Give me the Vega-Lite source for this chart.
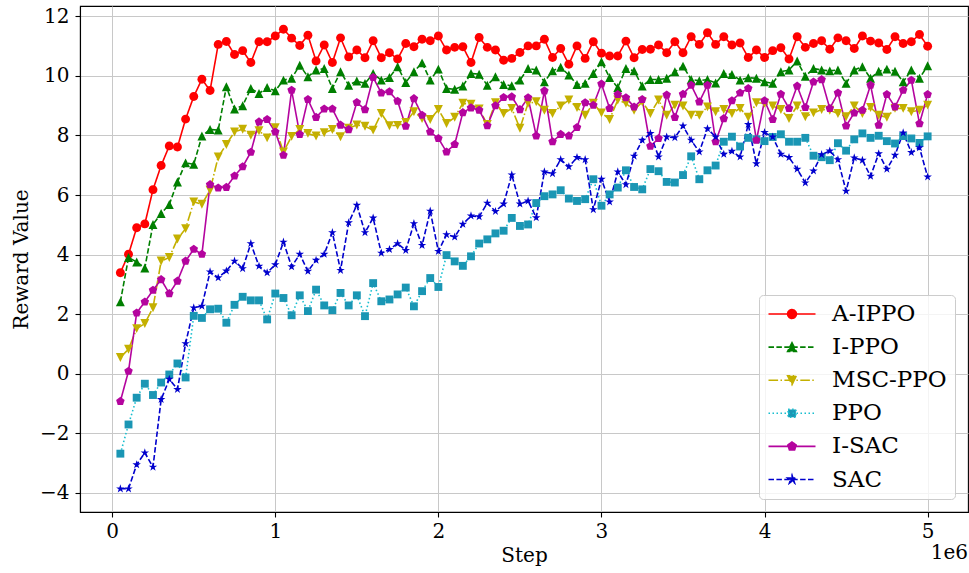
{
  "$schema": "https://vega.github.io/schema/vega-lite/v6.json",
  "width": 888,
  "height": 506,
  "autosize": {"type": "none"},
  "padding": {"left": 80, "top": 6, "right": 1, "bottom": 61},
  "background": "white",
  "config": {
    "font": "DejaVu Serif",
    "view": {"stroke": "black", "strokeWidth": 1.1},
    "axis": {
      "labelFont": "DejaVu Serif", "titleFont": "DejaVu Serif",
      "labelFontSize": 20, "titleFontSize": 20, "titleFontWeight": "normal",
      "labelColor": "black", "titleColor": "black",
      "domainColor": "black", "domainWidth": 1.1,
      "tickColor": "black", "tickSize": 5, "tickWidth": 1.1,
      "gridColor": "#c8c8c8", "gridWidth": 1
    }
  },
  "title": {"text": "1e6", "orient": "bottom", "anchor": "end", "frame": "group", "fontSize": 20, "fontWeight": "normal", "font": "DejaVu Serif", "color": "black", "offset": -22},
  "data": {"values": [
    {"step": 50000, "A-IPPO": 3.39, "I-PPO": 2.41, "MSC-PPO": 0.54, "PPO": -2.69, "I-SAC": -0.93, "SAC": -3.87},
    {"step": 100000, "A-IPPO": 4.01, "I-PPO": 3.90, "MSC-PPO": 0.82, "PPO": -1.71, "I-SAC": 0.08, "SAC": -3.87},
    {"step": 150000, "A-IPPO": 4.90, "I-PPO": 3.75, "MSC-PPO": 1.51, "PPO": -0.81, "I-SAC": 2.04, "SAC": -3.06},
    {"step": 200000, "A-IPPO": 5.03, "I-PPO": 3.55, "MSC-PPO": 1.68, "PPO": -0.34, "I-SAC": 2.41, "SAC": -2.66},
    {"step": 250000, "A-IPPO": 6.18, "I-PPO": 5.01, "MSC-PPO": 2.21, "PPO": -0.72, "I-SAC": 2.80, "SAC": -3.14},
    {"step": 300000, "A-IPPO": 6.99, "I-PPO": 5.38, "MSC-PPO": 3.78, "PPO": -0.30, "I-SAC": 3.16, "SAC": -0.87},
    {"step": 350000, "A-IPPO": 7.65, "I-PPO": 5.68, "MSC-PPO": 3.90, "PPO": -0.03, "I-SAC": 2.69, "SAC": -0.19},
    {"step": 400000, "A-IPPO": 7.61, "I-PPO": 6.44, "MSC-PPO": 4.52, "PPO": 0.34, "I-SAC": 3.11, "SAC": -0.53},
    {"step": 450000, "A-IPPO": 8.55, "I-PPO": 7.08, "MSC-PPO": 4.87, "PPO": -0.13, "I-SAC": 3.78, "SAC": 1.01},
    {"step": 500000, "A-IPPO": 9.31, "I-PPO": 7.03, "MSC-PPO": 5.77, "PPO": 1.94, "I-SAC": 4.18, "SAC": 2.21},
    {"step": 550000, "A-IPPO": 9.89, "I-PPO": 7.98, "MSC-PPO": 5.69, "PPO": 1.87, "I-SAC": 4.01, "SAC": 2.27},
    {"step": 600000, "A-IPPO": 9.51, "I-PPO": 8.20, "MSC-PPO": 6.16, "PPO": 2.16, "I-SAC": 6.35, "SAC": 3.42},
    {"step": 650000, "A-IPPO": 11.06, "I-PPO": 8.18, "MSC-PPO": 7.28, "PPO": 2.18, "I-SAC": 6.24, "SAC": 3.22},
    {"step": 700000, "A-IPPO": 11.16, "I-PPO": 9.64, "MSC-PPO": 7.70, "PPO": 1.71, "I-SAC": 6.26, "SAC": 3.45},
    {"step": 750000, "A-IPPO": 10.72, "I-PPO": 8.89, "MSC-PPO": 8.12, "PPO": 2.31, "I-SAC": 6.64, "SAC": 3.78},
    {"step": 800000, "A-IPPO": 10.85, "I-PPO": 9.00, "MSC-PPO": 8.21, "PPO": 2.58, "I-SAC": 6.95, "SAC": 3.53},
    {"step": 850000, "A-IPPO": 10.45, "I-PPO": 9.58, "MSC-PPO": 8.01, "PPO": 2.46, "I-SAC": 7.44, "SAC": 4.37},
    {"step": 900000, "A-IPPO": 11.15, "I-PPO": 9.41, "MSC-PPO": 8.16, "PPO": 2.46, "I-SAC": 8.46, "SAC": 3.61},
    {"step": 950000, "A-IPPO": 11.15, "I-PPO": 9.61, "MSC-PPO": 7.92, "PPO": 1.82, "I-SAC": 8.54, "SAC": 3.39},
    {"step": 1000000, "A-IPPO": 11.34, "I-PPO": 9.50, "MSC-PPO": 8.26, "PPO": 2.69, "I-SAC": 8.12, "SAC": 3.66},
    {"step": 1050000, "A-IPPO": 11.57, "I-PPO": 9.86, "MSC-PPO": 7.45, "PPO": 2.54, "I-SAC": 7.34, "SAC": 4.42},
    {"step": 1100000, "A-IPPO": 11.27, "I-PPO": 9.92, "MSC-PPO": 7.97, "PPO": 1.96, "I-SAC": 9.52, "SAC": 3.59},
    {"step": 1150000, "A-IPPO": 11.02, "I-PPO": 10.36, "MSC-PPO": 8.20, "PPO": 2.63, "I-SAC": 8.04, "SAC": 4.01},
    {"step": 1200000, "A-IPPO": 11.37, "I-PPO": 9.97, "MSC-PPO": 8.07, "PPO": 2.10, "I-SAC": 9.21, "SAC": 3.44},
    {"step": 1250000, "A-IPPO": 10.50, "I-PPO": 10.20, "MSC-PPO": 7.98, "PPO": 2.82, "I-SAC": 8.61, "SAC": 3.81},
    {"step": 1300000, "A-IPPO": 11.04, "I-PPO": 10.25, "MSC-PPO": 8.09, "PPO": 2.29, "I-SAC": 8.89, "SAC": 4.01},
    {"step": 1350000, "A-IPPO": 10.45, "I-PPO": 9.58, "MSC-PPO": 8.20, "PPO": 2.13, "I-SAC": 8.89, "SAC": 4.74},
    {"step": 1400000, "A-IPPO": 11.28, "I-PPO": 10.14, "MSC-PPO": 7.96, "PPO": 2.71, "I-SAC": 8.35, "SAC": 3.47},
    {"step": 1450000, "A-IPPO": 10.64, "I-PPO": 9.69, "MSC-PPO": 8.24, "PPO": 2.29, "I-SAC": 8.20, "SAC": 5.07},
    {"step": 1500000, "A-IPPO": 10.87, "I-PPO": 9.83, "MSC-PPO": 8.35, "PPO": 2.63, "I-SAC": 9.11, "SAC": 5.66},
    {"step": 1550000, "A-IPPO": 10.61, "I-PPO": 9.75, "MSC-PPO": 8.31, "PPO": 1.93, "I-SAC": 8.87, "SAC": 4.74},
    {"step": 1600000, "A-IPPO": 11.18, "I-PPO": 10.08, "MSC-PPO": 8.18, "PPO": 3.04, "I-SAC": 9.95, "SAC": 5.23},
    {"step": 1650000, "A-IPPO": 10.61, "I-PPO": 9.86, "MSC-PPO": 8.74, "PPO": 2.43, "I-SAC": 9.43, "SAC": 4.05},
    {"step": 1700000, "A-IPPO": 10.78, "I-PPO": 9.95, "MSC-PPO": 8.33, "PPO": 2.49, "I-SAC": 9.47, "SAC": 4.17},
    {"step": 1750000, "A-IPPO": 10.57, "I-PPO": 10.31, "MSC-PPO": 8.34, "PPO": 2.66, "I-SAC": 9.15, "SAC": 4.37},
    {"step": 1800000, "A-IPPO": 11.09, "I-PPO": 9.78, "MSC-PPO": 8.44, "PPO": 2.89, "I-SAC": 8.31, "SAC": 4.14},
    {"step": 1850000, "A-IPPO": 10.98, "I-PPO": 10.14, "MSC-PPO": 8.80, "PPO": 2.26, "I-SAC": 9.24, "SAC": 5.04},
    {"step": 1900000, "A-IPPO": 11.23, "I-PPO": 10.44, "MSC-PPO": 8.57, "PPO": 2.77, "I-SAC": 8.68, "SAC": 4.31},
    {"step": 1950000, "A-IPPO": 11.18, "I-PPO": 9.86, "MSC-PPO": 8.54, "PPO": 3.21, "I-SAC": 8.12, "SAC": 5.46},
    {"step": 2000000, "A-IPPO": 11.34, "I-PPO": 10.23, "MSC-PPO": 8.87, "PPO": 2.91, "I-SAC": 7.90, "SAC": 4.11},
    {"step": 2050000, "A-IPPO": 10.87, "I-PPO": 9.58, "MSC-PPO": 8.40, "PPO": 3.98, "I-SAC": 7.45, "SAC": 4.67},
    {"step": 2100000, "A-IPPO": 10.96, "I-PPO": 9.55, "MSC-PPO": 8.61, "PPO": 3.77, "I-SAC": 7.70, "SAC": 4.59},
    {"step": 2150000, "A-IPPO": 10.98, "I-PPO": 9.66, "MSC-PPO": 9.08, "PPO": 3.62, "I-SAC": 8.77, "SAC": 5.02},
    {"step": 2200000, "A-IPPO": 10.45, "I-PPO": 10.08, "MSC-PPO": 9.05, "PPO": 3.94, "I-SAC": 8.93, "SAC": 5.30},
    {"step": 2250000, "A-IPPO": 11.29, "I-PPO": 10.06, "MSC-PPO": 8.89, "PPO": 4.37, "I-SAC": 8.85, "SAC": 5.27},
    {"step": 2300000, "A-IPPO": 10.96, "I-PPO": 9.69, "MSC-PPO": 8.37, "PPO": 4.51, "I-SAC": 8.33, "SAC": 5.73},
    {"step": 2350000, "A-IPPO": 10.87, "I-PPO": 9.97, "MSC-PPO": 9.10, "PPO": 4.71, "I-SAC": 9.00, "SAC": 5.45},
    {"step": 2400000, "A-IPPO": 10.53, "I-PPO": 9.71, "MSC-PPO": 8.74, "PPO": 4.80, "I-SAC": 9.28, "SAC": 5.70},
    {"step": 2450000, "A-IPPO": 10.59, "I-PPO": 9.67, "MSC-PPO": 8.91, "PPO": 5.23, "I-SAC": 9.30, "SAC": 6.68},
    {"step": 2500000, "A-IPPO": 10.79, "I-PPO": 9.86, "MSC-PPO": 8.24, "PPO": 4.96, "I-SAC": 8.87, "SAC": 5.70},
    {"step": 2550000, "A-IPPO": 11.01, "I-PPO": 10.25, "MSC-PPO": 9.08, "PPO": 5.01, "I-SAC": 9.27, "SAC": 5.80},
    {"step": 2600000, "A-IPPO": 11.01, "I-PPO": 10.20, "MSC-PPO": 9.13, "PPO": 5.73, "I-SAC": 7.99, "SAC": 5.24},
    {"step": 2650000, "A-IPPO": 11.23, "I-PPO": 9.80, "MSC-PPO": 8.85, "PPO": 5.96, "I-SAC": 9.50, "SAC": 6.78},
    {"step": 2700000, "A-IPPO": 10.62, "I-PPO": 10.17, "MSC-PPO": 8.74, "PPO": 6.02, "I-SAC": 7.79, "SAC": 6.72},
    {"step": 2750000, "A-IPPO": 10.92, "I-PPO": 10.29, "MSC-PPO": 8.99, "PPO": 6.16, "I-SAC": 8.04, "SAC": 7.19},
    {"step": 2800000, "A-IPPO": 10.39, "I-PPO": 10.03, "MSC-PPO": 9.19, "PPO": 5.88, "I-SAC": 7.99, "SAC": 6.95},
    {"step": 2850000, "A-IPPO": 11.01, "I-PPO": 9.71, "MSC-PPO": 8.94, "PPO": 5.80, "I-SAC": 8.27, "SAC": 7.26},
    {"step": 2900000, "A-IPPO": 10.59, "I-PPO": 9.75, "MSC-PPO": 8.68, "PPO": 5.86, "I-SAC": 9.10, "SAC": 7.19},
    {"step": 2950000, "A-IPPO": 11.15, "I-PPO": 10.08, "MSC-PPO": 9.08, "PPO": 6.53, "I-SAC": 9.02, "SAC": 5.51},
    {"step": 3000000, "A-IPPO": 10.76, "I-PPO": 10.48, "MSC-PPO": 8.76, "PPO": 5.64, "I-SAC": 9.73, "SAC": 6.53},
    {"step": 3050000, "A-IPPO": 10.67, "I-PPO": 9.95, "MSC-PPO": 8.54, "PPO": 6.02, "I-SAC": 8.91, "SAC": 5.77},
    {"step": 3100000, "A-IPPO": 10.67, "I-PPO": 9.61, "MSC-PPO": 9.19, "PPO": 6.25, "I-SAC": 9.38, "SAC": 6.78},
    {"step": 3150000, "A-IPPO": 11.17, "I-PPO": 10.25, "MSC-PPO": 9.08, "PPO": 6.83, "I-SAC": 9.27, "SAC": 6.35},
    {"step": 3200000, "A-IPPO": 10.61, "I-PPO": 10.17, "MSC-PPO": 8.85, "PPO": 6.27, "I-SAC": 8.96, "SAC": 7.31},
    {"step": 3250000, "A-IPPO": 10.89, "I-PPO": 9.66, "MSC-PPO": 9.13, "PPO": 6.19, "I-SAC": 9.21, "SAC": 7.84},
    {"step": 3300000, "A-IPPO": 10.90, "I-PPO": 9.88, "MSC-PPO": 8.74, "PPO": 6.87, "I-SAC": 7.64, "SAC": 8.07},
    {"step": 3350000, "A-IPPO": 11.04, "I-PPO": 9.88, "MSC-PPO": 9.19, "PPO": 6.80, "I-SAC": 7.90, "SAC": 7.28},
    {"step": 3400000, "A-IPPO": 10.78, "I-PPO": 9.92, "MSC-PPO": 8.68, "PPO": 6.44, "I-SAC": 9.36, "SAC": 7.95},
    {"step": 3450000, "A-IPPO": 11.15, "I-PPO": 10.14, "MSC-PPO": 9.02, "PPO": 6.42, "I-SAC": 8.61, "SAC": 7.93},
    {"step": 3500000, "A-IPPO": 10.78, "I-PPO": 10.33, "MSC-PPO": 8.99, "PPO": 6.67, "I-SAC": 9.39, "SAC": 8.32},
    {"step": 3550000, "A-IPPO": 11.32, "I-PPO": 9.88, "MSC-PPO": 8.68, "PPO": 7.30, "I-SAC": 9.69, "SAC": 7.84},
    {"step": 3600000, "A-IPPO": 11.06, "I-PPO": 9.84, "MSC-PPO": 8.68, "PPO": 6.53, "I-SAC": 9.13, "SAC": 7.45},
    {"step": 3650000, "A-IPPO": 11.45, "I-PPO": 9.88, "MSC-PPO": 8.96, "PPO": 6.83, "I-SAC": 9.69, "SAC": 8.23},
    {"step": 3700000, "A-IPPO": 11.06, "I-PPO": 9.76, "MSC-PPO": 8.80, "PPO": 6.99, "I-SAC": 7.79, "SAC": 7.95},
    {"step": 3750000, "A-IPPO": 11.32, "I-PPO": 10.08, "MSC-PPO": 8.87, "PPO": 7.79, "I-SAC": 8.57, "SAC": 7.37},
    {"step": 3800000, "A-IPPO": 11.04, "I-PPO": 10.05, "MSC-PPO": 8.74, "PPO": 7.96, "I-SAC": 9.17, "SAC": 7.47},
    {"step": 3850000, "A-IPPO": 11.11, "I-PPO": 9.86, "MSC-PPO": 8.91, "PPO": 7.63, "I-SAC": 9.43, "SAC": 7.28},
    {"step": 3900000, "A-IPPO": 10.62, "I-PPO": 9.94, "MSC-PPO": 8.61, "PPO": 7.92, "I-SAC": 9.58, "SAC": 8.37},
    {"step": 3950000, "A-IPPO": 10.87, "I-PPO": 9.92, "MSC-PPO": 9.10, "PPO": 7.87, "I-SAC": 7.84, "SAC": 7.05},
    {"step": 4000000, "A-IPPO": 10.62, "I-PPO": 9.80, "MSC-PPO": 9.08, "PPO": 7.81, "I-SAC": 9.17, "SAC": 8.10},
    {"step": 4050000, "A-IPPO": 10.85, "I-PPO": 9.75, "MSC-PPO": 8.99, "PPO": 7.95, "I-SAC": 8.54, "SAC": 7.95},
    {"step": 4100000, "A-IPPO": 10.95, "I-PPO": 10.14, "MSC-PPO": 8.87, "PPO": 8.04, "I-SAC": 9.39, "SAC": 7.37},
    {"step": 4150000, "A-IPPO": 10.57, "I-PPO": 10.20, "MSC-PPO": 8.57, "PPO": 7.79, "I-SAC": 8.91, "SAC": 7.26},
    {"step": 4200000, "A-IPPO": 11.32, "I-PPO": 10.50, "MSC-PPO": 8.99, "PPO": 7.79, "I-SAC": 9.66, "SAC": 6.87},
    {"step": 4250000, "A-IPPO": 10.96, "I-PPO": 9.99, "MSC-PPO": 8.63, "PPO": 7.92, "I-SAC": 8.94, "SAC": 6.41},
    {"step": 4300000, "A-IPPO": 11.09, "I-PPO": 10.25, "MSC-PPO": 8.76, "PPO": 7.32, "I-SAC": 9.80, "SAC": 6.81},
    {"step": 4350000, "A-IPPO": 11.18, "I-PPO": 10.20, "MSC-PPO": 8.87, "PPO": 7.27, "I-SAC": 9.88, "SAC": 7.36},
    {"step": 4400000, "A-IPPO": 10.90, "I-PPO": 10.17, "MSC-PPO": 8.85, "PPO": 7.17, "I-SAC": 8.91, "SAC": 7.48},
    {"step": 4450000, "A-IPPO": 11.28, "I-PPO": 10.20, "MSC-PPO": 8.74, "PPO": 7.74, "I-SAC": 9.43, "SAC": 7.19},
    {"step": 4500000, "A-IPPO": 11.18, "I-PPO": 9.75, "MSC-PPO": 8.63, "PPO": 7.49, "I-SAC": 8.32, "SAC": 6.13},
    {"step": 4550000, "A-IPPO": 10.92, "I-PPO": 10.20, "MSC-PPO": 8.99, "PPO": 7.87, "I-SAC": 8.76, "SAC": 7.25},
    {"step": 4600000, "A-IPPO": 11.34, "I-PPO": 10.31, "MSC-PPO": 8.74, "PPO": 8.07, "I-SAC": 8.85, "SAC": 7.17},
    {"step": 4650000, "A-IPPO": 11.17, "I-PPO": 9.92, "MSC-PPO": 8.94, "PPO": 7.92, "I-SAC": 9.69, "SAC": 6.63},
    {"step": 4700000, "A-IPPO": 11.11, "I-PPO": 10.16, "MSC-PPO": 8.68, "PPO": 7.99, "I-SAC": 8.35, "SAC": 7.39},
    {"step": 4750000, "A-IPPO": 10.89, "I-PPO": 10.23, "MSC-PPO": 8.61, "PPO": 7.81, "I-SAC": 9.38, "SAC": 6.87},
    {"step": 4800000, "A-IPPO": 11.32, "I-PPO": 10.16, "MSC-PPO": 8.91, "PPO": 7.73, "I-SAC": 8.96, "SAC": 7.34},
    {"step": 4850000, "A-IPPO": 11.09, "I-PPO": 9.80, "MSC-PPO": 8.91, "PPO": 7.98, "I-SAC": 9.52, "SAC": 8.09},
    {"step": 4900000, "A-IPPO": 11.15, "I-PPO": 10.20, "MSC-PPO": 8.80, "PPO": 7.90, "I-SAC": 9.86, "SAC": 7.43},
    {"step": 4950000, "A-IPPO": 11.39, "I-PPO": 9.92, "MSC-PPO": 8.85, "PPO": 7.75, "I-SAC": 8.40, "SAC": 7.59},
    {"step": 5000000, "A-IPPO": 11.00, "I-PPO": 10.34, "MSC-PPO": 9.02, "PPO": 7.97, "I-SAC": 9.38, "SAC": 6.61}
  ]},
  "transform": [
    {"fold": ["A-IPPO", "I-PPO", "MSC-PPO", "PPO", "I-SAC", "SAC"], "as": ["series", "value"]}
  ],
  "encoding": {
    "x": {
      "field": "step", "type": "quantitative",
      "scale": {"domain": [-197500, 5247500], "nice": false, "zero": false},
      "axis": {"values": [0, 1000000, 2000000, 3000000, 4000000, 5000000], "labelExpr": "'' + datum.value / 1000000", "title": "Step", "labelPadding": 4, "titlePadding": 4, "grid": true}
    },
    "y": {
      "field": "value", "type": "quantitative",
      "scale": {"domain": [-4.65, 12.35], "nice": false, "zero": false},
      "axis": {"values": [-4, -2, 0, 2, 4, 6, 8, 10, 12], "title": "Reward Value", "labelPadding": 6, "titlePadding": 8, "grid": true}
    }
  },
  "layer": [
    {
      "mark": {"type": "line", "strokeWidth": 1.6},
      "encoding": {
        "color": {
          "field": "series", "type": "nominal",
          "scale": {"domain": ["A-IPPO", "I-PPO", "MSC-PPO", "PPO", "I-SAC", "SAC"], "range": ["#ff0000", "#007f00", "#c4b000", "#17becf", "#b4049e", "#0000cd"]},
          "legend": {
            "title": null, "orient": "bottom-right", "offset": 13,
            "labelFont": "DejaVu Serif", "labelFontSize": 23, "labelColor": "black",
            "symbolSize": 64, "symbolStrokeWidth": 1.6, "symbolOffset": 14, "labelOffset": 28.6,
            "rowPadding": 9.1, "padding": 7.5,
            "fillColor": "rgba(255,255,255,0.8)", "strokeColor": "#cccccc", "cornerRadius": 4,
            "encode": {
              "symbols": {
                "update": {
                  "shape": {"signal": "datum.value === 'A-IPPO' ? 'M-5.875,0L5.875,0M1.1,0A1.1,1.1,0,1,1,-1.1,0A1.1,1.1,0,1,1,1.1,0Z' : datum.value === 'I-PPO' ? 'M-5.875,0L5.875,0M0,-1.1L1.1,1.1L-1.1,1.1Z' : datum.value === 'MSC-PPO' ? 'M-5.875,0L5.875,0M0,1.1L1.1,-1.1L-1.1,-1.1Z' : datum.value === 'PPO' ? 'M-5.875,0L5.875,0M-0.97,-0.97L0.97,-0.97L0.97,0.97L-0.97,0.97Z' : datum.value === 'I-SAC' ? 'M-5.875,0L5.875,0M0,-1.1L1.046,-0.34L0.647,0.89L-0.647,0.89L-1.046,-0.34Z' : 'M-5.875,0L5.875,0M0,-1.1L0.247,-0.34L1.046,-0.34L0.399,0.13L0.647,0.89L0,0.42L-0.647,0.89L-0.399,0.13L-1.046,-0.34L-0.247,-0.34Z'"},
                  "strokeDash": {"signal": "datum.value === 'I-PPO' || datum.value === 'SAC' ? [5.5, 2.4] : datum.value === 'MSC-PPO' ? [9.6, 2.4, 1.5, 2.4] : datum.value === 'PPO' ? [1.5, 2.5] : [1, 0]"},
                  "fill": {"signal": "datum.value === 'A-IPPO' ? '#ff0000' : datum.value === 'I-PPO' ? '#007f00' : datum.value === 'MSC-PPO' ? '#c4b000' : datum.value === 'PPO' ? '#1a96b4' : datum.value === 'I-SAC' ? '#b4049e' : '#0000cd'"},
                  "strokeWidth": {"value": 1.6},
                  "opacity": {"value": 1}
                }
              }
            }
          }
        },
        "strokeDash": {
          "field": "series", "type": "nominal",
          "scale": {"domain": ["SAC", "I-SAC", "PPO", "MSC-PPO", "I-PPO", "A-IPPO"], "range": [[5.5, 2.4], [1, 0], [1.5, 2.5], [9.6, 2.4, 1.5, 2.4], [5.5, 2.4], [1, 0]]},
          "legend": null
        }
      }
    },
    {
      "mark": {"type": "point", "filled": true, "size": 80, "opacity": 1},
      "encoding": {
        "shape": {
          "field": "series", "type": "nominal",
          "scale": {"domain": ["SAC", "I-SAC", "PPO", "MSC-PPO", "I-PPO", "A-IPPO"], "range": [
            "M0,-1L0.2245,-0.309L0.951,-0.309L0.363,0.118L0.588,0.809L0,0.382L-0.588,0.809L-0.363,0.118L-0.951,-0.309L-0.2245,-0.309Z",
            "M0,-1L0.951,-0.309L0.588,0.809L-0.588,0.809L-0.951,-0.309Z",
            "M-0.88,-0.88L0.88,-0.88L0.88,0.88L-0.88,0.88Z",
            "M0,1L1,-1L-1,-1Z",
            "M0,-1L1,1L-1,1Z",
            "M1,0A1,1,0,1,1,-1,0A1,1,0,1,1,1,0Z"
          ]},
          "legend": null
        },
        "fill": {
          "field": "series", "type": "nominal",
          "scale": {"domain": ["SAC", "I-SAC", "PPO", "MSC-PPO", "I-PPO", "A-IPPO"], "range": ["#0000cd", "#b4049e", "#1a96b4", "#c4b000", "#007f00", "#ff0000"]},
          "legend": null
        }
      }
    }
  ]
}
